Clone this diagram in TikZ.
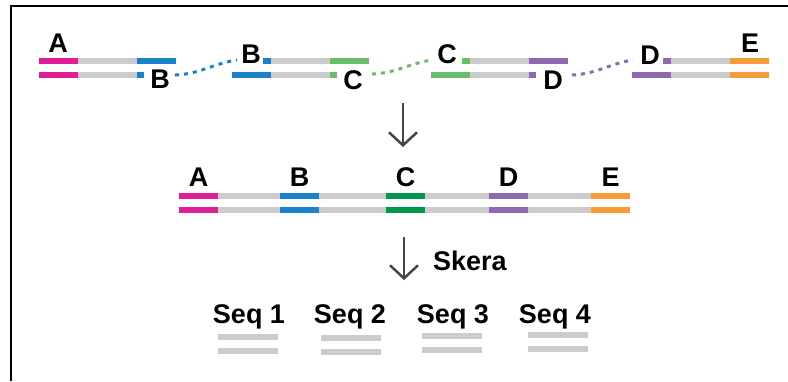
\documentclass[tikz,border=0pt]{standalone}
\usepackage{fontspec}
\setmainfont{Liberation Sans}
\usetikzlibrary{arrows.meta}
\definecolor{segpink}{RGB}{224,30,150}
\definecolor{segblue}{RGB}{26,130,200}
\definecolor{seggreen}{RGB}{106,190,106}
\definecolor{segdkgreen}{RGB}{0,153,76}
\definecolor{segpurple}{RGB}{142,106,176}
\definecolor{segorange}{RGB}{247,156,56}
\definecolor{seggray}{RGB}{204,204,204}
\definecolor{arrowgray}{RGB}{68,68,68}
\begin{document}
\begin{tikzpicture}
[x=1pt,y=-1pt,%
  strand/.style={line width=6pt},%
  lbl/.style={anchor=base,inner sep=0pt,font=\bfseries\fontsize{27}{30}\selectfont},%
  link/.style={line width=3pt,dash pattern=on 4pt off 5pt},%
  down/.style={draw=arrowgray,line width=2.5pt,-{Straight Barb[length=13pt,width=28pt]}}]
\useasboundingbox (0,0) rectangle (788,381);
\draw[line width=2.5pt] (11,381) -- (11,6) -- (788,6);
% fragments
\foreach \L/\cl/\cr/\tl/\br [count=\i] in
  {39/segpink/segblue/0/105, 232/segblue/seggreen/31/105,
   431/seggreen/segpurple/31/105, 632/segpurple/segorange/31/137}
{
  \draw[strand,seggray] (\L+\tl,60.5) -- (\L+137,60.5);
  \draw[strand,\cl] (\L+\tl,60.5) -- (\L+39,60.5);
  \draw[strand,\cr] (\L+98,60.5) -- (\L+137,60.5);
  \draw[strand,seggray] (\L,75) -- (\L+\br,75);
  \draw[strand,\cl] (\L,75) -- (\L+39,75);
  \draw[strand,\cr] (\L+98,75) -- (\L+\br,75);
}
\node[lbl] (a1) at (58,52) {A};
\node[lbl] (b1) at (160,88) {B};
\node[lbl] (b2) at (251,63) {B};
\node[lbl] (c1) at (353,89) {C};
\node[lbl] (c2) at (447,63) {C};
\node[lbl] (d1) at (553,89) {D};
\node[lbl] (d2) at (650,64) {D};
\node[lbl] (e1) at (750,52) {E};
\coordinate (b1out) at (175,75);
\coordinate (b2in) at (237,60);
\coordinate (c1out) at (372,74);
\coordinate (c2in) at (432,60);
\coordinate (d1out) at (572,75);
\coordinate (d2in) at (633,60);
\draw[link,segblue] (b1out) .. controls +(25,-1) and +(-25,4) .. (b2in);
\draw[link,seggreen] (c1out) .. controls +(25,-1) and +(-25,4) .. (c2in);
\draw[link,segpurple] (d1out) .. controls +(25,-1) and +(-25,4) .. (d2in);
% joined
\coordinate (join top) at (403,103);
\coordinate (join tip) at (403,147);
\draw[down] (join top) -- (join tip);
\draw[strand,seggray] (179,196) -- (630,196);
\draw[strand,seggray] (179,210) -- (630,210);
\foreach \s/\c/\t in {179/segpink/A, 280/segblue/B, 386/segdkgreen/C,
  489/segpurple/D, 591/segorange/E}
{
  \draw[strand,\c] (\s,196) -- (\s+39,196);
  \draw[strand,\c] (\s,210) -- (\s+39,210);
  \node[lbl] (j\t) at (\s+19.5,186) {\t};
}
% cut
\coordinate (cut top) at (404,237);
\coordinate (cut tip) at (404,280);
\draw[down] (cut top) -- (cut tip);
\node[lbl,anchor=base west] (skera) at (433,270) {Skera};
\foreach \x/\b/\u [count=\n] in {249/248/337, 350/351/338, 453/452/336, 555/558/335}
{
  \node[lbl] (seq\n) at (\x,323) {Seq \n};
  \draw[strand,seggray] (\b-30,\u) -- (\b+30,\u);
  \draw[strand,seggray] (\b-30,\u+14) -- (\b+30,\u+14);
}
\end{tikzpicture}
\end{document}
